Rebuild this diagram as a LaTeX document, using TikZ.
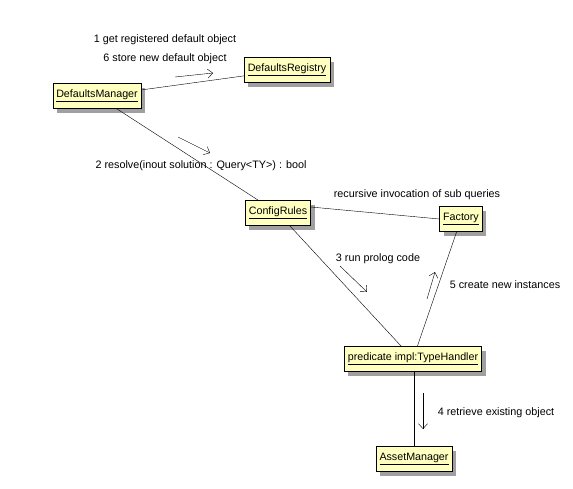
\documentclass[tikz,border=0pt]{standalone}
\usepackage{fontspec}
\setmainfont{Liberation Sans}
\usepackage{tikz}
\usetikzlibrary{arrows.meta, shadows}
\usepackage{xcolor}
\definecolor{objfill}{HTML}{FFFFC0}
\definecolor{shadowcol}{HTML}{A0A0A0}

\begin{document}
\begin{tikzpicture}[
  x=1pt, y=-1pt,
  obj/.style={draw, fill=objfill, inner xsep=3.5pt, minimum height=25pt, font=\fontsize{10.7}{12}\selectfont,
    drop shadow={shadow xshift=4pt, shadow yshift=-4pt, fill=shadowcol, opacity=1}},
  link/.style={thin},
  msg/.style={-{Straight Barb[length=5pt, width=9pt]}, thin},
  lbl/.style={font=\fontsize{10.8}{12}\selectfont}
]
\useasboundingbox (0,0) rectangle (573,488);

% Objects
\node[obj] (manager) at (97, 96) {\underline{DefaultsManager}};
\node[obj] (registry) at (287, 70) {\underline{DefaultsRegistry}};
\node[obj] (rules) at (278, 213) {\underline{ConfigRules}};
\node[obj] (factory) at (461, 219) {\underline{Factory}};
\node[obj] (handler) at (413, 359) {\underline{predicate impl:TypeHandler}};
\node[obj] (asset) at (414, 459) {\underline{AssetManager}};

% Links
\draw[link] (manager) -- (registry);
\draw[link] (manager) -- (rules);
\draw[link] ([yshift=6pt]rules.east) -- (factory.west);
\draw[link] (rules) -- (handler);
\draw[link] (factory) -- (handler);
\draw[link] (asset) -- (asset |- handler.south);

% Messages
\coordinate (m1a) at (175, 77);
\coordinate (m1b) at (213, 73);
\coordinate (m2a) at (178, 137);
\coordinate (m2b) at (210, 153);
\coordinate (m3a) at (340, 266);
\coordinate (m3b) at (367, 292);
\coordinate (m5a) at (427, 299);
\coordinate (m5b) at (435, 272);
\coordinate (m4a) at (423, 393);
\coordinate (m4b) at (423, 429);

\draw[msg] (m1a) -- (m1b);
\draw[msg] (m2a) -- (m2b);
\draw[msg] (m3a) -- (m3b);
\draw[msg] (m5a) -- (m5b);
\draw[msg] (m4a) -- (m4b);

% Labels
\node[lbl] (l1) at (165, 40) {1 get registered default object};
\node[lbl] (l6) at (165, 59) {6 store new default object};
\node[lbl] (l2) at (201, 166) {2 resolve(inout solution : Query<TY>) : bool};
\node[lbl] (lrec) at (417, 195) {recursive invocation of sub queries};
\node[lbl] (l3) at (378, 259) {3 run prolog code};
\node[lbl] (l5) at (505, 285) {5 create new instances};
\node[lbl] (l4) at (496, 413) {4 retrieve existing object};
\end{tikzpicture}
\end{document}
